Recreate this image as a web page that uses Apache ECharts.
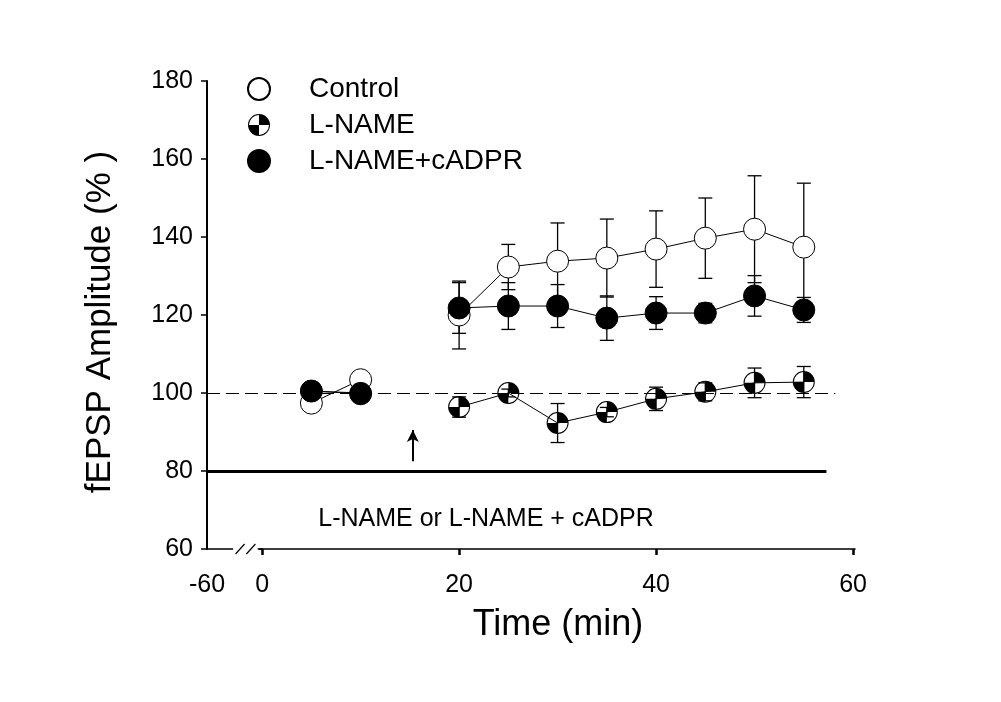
<!DOCTYPE html>
<html>
<head>
<meta charset="utf-8">
<script src="https://cdn.jsdelivr.net/npm/echarts@6/dist/echarts.min.js"></script>
<style>
  html, body { margin: 0; padding: 0; background: #fff; }
  #chart { width: 1001px; height: 702px; }
</style>
</head>
<body>
<div id="chart"></div>
<script>
// time points (min)
var timesPre = [5, 10];
var timesPost = [20, 25, 30, 35, 40, 45, 50, 55];

// mean values (%)
var controlPre = [97.4, 103.4];
var controlPost = [120, 132.3, 133.8, 134.6, 136.9, 139.7, 142, 137.4];
var lnamePre = [100.5, 100];
var lnamePost = [96.4, 100, 92.3, 95.1, 98.5, 100.3, 102.6, 102.8];
var cadprPre = [100.5, 99.8];
var cadprPost = [121.8, 122.3, 122.3, 119.2, 120.5, 120.5, 124.9, 121.3];

// SEM
var controlErr = [1.5, 1.5, 8.7, 5.8, 9.8, 10, 9.8, 10.3, 13.7, 16.4];
var lnameErr = [1, 1, 2.6, 1, 5, 1.2, 3, 2.3, 3.8, 4];
var cadprErr = [1.5, 1.5, 6.5, 6, 5.5, 5.7, 4.2, 2.5, 5.2, 3.2];

var yTicks = [60, 80, 100, 120, 140, 160, 180];
var xTicks = [0, 20, 40, 60];
var xMin = -5.6; // drawn as "-60" behind the axis break

var FONT = "'Liberation Sans', Arial, sans-serif";

var quarterPath = 'path://M0,-10A10,10 0 1,1 0,10A10,10 0 1,1 0,-10Z' +
  'M0,-9.1A9.1,9.1 0 1,0 0,9.1A9.1,9.1 0 1,0 0,-9.1Z' +
  'M0,0L0,-9.1A9.1,9.1 0 0,1 9.1,0Z' +
  'M0,0L0,9.1A9.1,9.1 0 0,1 -9.1,0Z';

var allTimes = timesPre.concat(timesPost);

function lineData(pre, post) {
  var d = [];
  timesPre.forEach(function (t, i) { d.push([t, pre[i]]); });
  d.push([15, '-']);
  timesPost.forEach(function (t, i) { d.push([t, post[i]]); });
  return d;
}

function errData(pre, post, err) {
  var vals = pre.concat(post);
  return allTimes.map(function (t, i) {
    return [t, vals[i] - err[i], vals[i] + err[i]];
  });
}

function renderErr(params, api) {
  var lo = api.coord([api.value(0), api.value(1)]);
  var hi = api.coord([api.value(0), api.value(2)]);
  var w = 7;
  var st = { stroke: '#000', lineWidth: 1.3 };
  return {
    type: 'group',
    children: [
      { type: 'line', shape: { x1: lo[0], y1: lo[1], x2: hi[0], y2: hi[1] }, style: st },
      { type: 'line', shape: { x1: lo[0] - w, y1: lo[1], x2: lo[0] + w, y2: lo[1] }, style: st },
      { type: 'line', shape: { x1: hi[0] - w, y1: hi[1], x2: hi[0] + w, y2: hi[1] }, style: st }
    ]
  };
}

var chart = echarts.init(document.getElementById('chart'));

var option = {
  backgroundColor: '#fff',
  animation: false,
  textStyle: { fontFamily: FONT, color: '#000' },
  grid: { left: 207, right: 146, top: 81, bottom: 153, containLabel: false },
  legend: {
    orient: 'vertical',
    left: 247,
    top: 75,
    padding: 0,
    itemWidth: 22,
    itemHeight: 22,
    itemGap: 8,
    selectedMode: false,
    textStyle: { fontSize: 28, lineHeight: 22, color: '#000', fontFamily: FONT, padding: [0, 0, 0, 34] },
    data: [
      { name: 'Control', icon: 'circle' },
      { name: 'L-NAME', icon: quarterPath },
      { name: 'L-NAME+cADPR', icon: 'circle' }
    ]
  },
  xAxis: {
    type: 'value',
    min: xMin,
    max: 60.2,
    splitLine: { show: false },
    axisLine: { onZero: false, lineStyle: { color: '#000', width: 1.5 } },
    axisTick: {
      customValues: xTicks,
      length: 6,
      lineStyle: { color: '#000', width: 2.5 }
    },
    axisLabel: {
      customValues: [xMin].concat(xTicks),
      fontSize: 25,
      color: '#000',
      margin: 24,
      fontFamily: FONT,
      formatter: function (v) { return v < -1 ? '-60' : String(v); }
    },
    name: 'Time (min)',
    nameLocation: 'middle',
    nameGap: 58,
    nameTextStyle: { fontSize: 36, color: '#000', fontFamily: FONT, padding: [0, 0, 0, 54] }
  },
  yAxis: {
    type: 'value',
    min: yTicks[0],
    max: yTicks[yTicks.length - 1],
    interval: 20,
    splitLine: { show: false },
    axisLine: { onZero: false, lineStyle: { color: '#000', width: 2 } },
    axisTick: { length: 6, lineStyle: { color: '#000', width: 1.5 } },
    axisLabel: { fontSize: 25, color: '#000', margin: 14, fontFamily: FONT },
    name: 'fEPSP Amplitude (% )',
    nameLocation: 'middle',
    nameGap: 89,
    nameTextStyle: { fontSize: 35, color: '#000', fontFamily: FONT, padding: [0, 14, 0, 0] }
  },
  series: [
    {
      name: 'ctrlErr',
      type: 'custom',
      renderItem: renderErr,
      data: errData(controlPre, controlPost, controlErr),
      z: 1,
      silent: true
    },
    {
      name: 'lnameErr',
      type: 'custom',
      renderItem: renderErr,
      data: errData(lnamePre, lnamePost, lnameErr),
      z: 1,
      silent: true
    },
    {
      name: 'cadprErr',
      type: 'custom',
      renderItem: renderErr,
      data: errData(cadprPre, cadprPost, cadprErr),
      z: 1,
      silent: true
    },
    {
      name: 'Control',
      type: 'line',
      data: lineData(controlPre, controlPost),
      connectNulls: false,
      symbol: 'circle',
      symbolSize: 22,
      z: 3,
      lineStyle: { color: '#000', width: 1 },
      itemStyle: { color: '#fff', borderColor: '#000', borderWidth: 1 },
      markLine: {
        silent: true,
        symbol: 'none',
        label: { show: false },
        data: [
          [{ coord: [xMin, 100], lineStyle: { color: '#000', width: 1.2, type: [13, 6] } },
           { coord: [58.2, 100] }],
          [{ coord: [xMin, 80], lineStyle: { color: '#000', width: 3, type: 'solid' } },
           { coord: [57.3, 80] }]
        ]
      }
    },
    {
      name: 'L-NAME',
      type: 'line',
      data: lineData(lnamePre, lnamePost),
      connectNulls: false,
      symbol: quarterPath,
      symbolSize: 22,
      z: 4,
      lineStyle: { color: '#000', width: 1 },
      itemStyle: { color: '#000', borderWidth: 0 },
      markLine: {
        silent: true,
        symbol: ['none', 'arrow'],
        symbolSize: [9, 12],
        label: { show: false },
        lineStyle: { color: '#000', width: 2, type: 'solid' },
        data: [[{ coord: [15.3, 82.5] }, { coord: [15.3, 90.5] }]]
      }
    },
    {
      name: 'L-NAME+cADPR',
      type: 'line',
      data: lineData(cadprPre, cadprPost),
      connectNulls: false,
      symbol: 'circle',
      symbolSize: 22,
      z: 5,
      lineStyle: { color: '#000', width: 1 },
      itemStyle: { color: '#000', borderColor: '#000', borderWidth: 1 }
    }
  ]
};

chart.setOption(option);

// axis break marks and drug-application label, placed through the axes
var toPx = function (p) { return chart.convertToPixel({ xAxisIndex: 0, yAxisIndex: 0 }, p); };
var gL = toPx([-2.95, 60]);
var gR = toPx([-0.35, 60]);
var s1 = toPx([-2.7, 60]);
var s2 = toPx([-1.6, 60]);
var txt = toPx([5.7, 67.6]);

chart.setOption({
  graphic: [
    { type: 'rect', shape: { x: gL[0], y: gL[1] - 3, width: gR[0] - gL[0], height: 6 },
      style: { fill: '#fff' }, z: 10 },
    { type: 'line', shape: { x1: s1[0], y1: s1[1] + 5, x2: s1[0] + 9, y2: s1[1] - 5 },
      style: { stroke: '#000', lineWidth: 1.2 }, z: 11 },
    { type: 'line', shape: { x1: s2[0], y1: s2[1] + 5, x2: s2[0] + 9, y2: s2[1] - 5 },
      style: { stroke: '#000', lineWidth: 1.2 }, z: 11 },
    { type: 'line', shape: { x1: gR[0] - 1, y1: gR[1], x2: gR[0] + 4, y2: gR[1] },
      style: { stroke: '#000', lineWidth: 1.5 }, z: 11 },
    { type: 'text', x: txt[0], y: txt[1], z: 11,
      style: { text: 'L-NAME or L-NAME + cADPR', font: '25px ' + FONT, fill: '#000',
               textAlign: 'left', textVerticalAlign: 'middle' } }
  ]
});
</script>
</body>
</html>
